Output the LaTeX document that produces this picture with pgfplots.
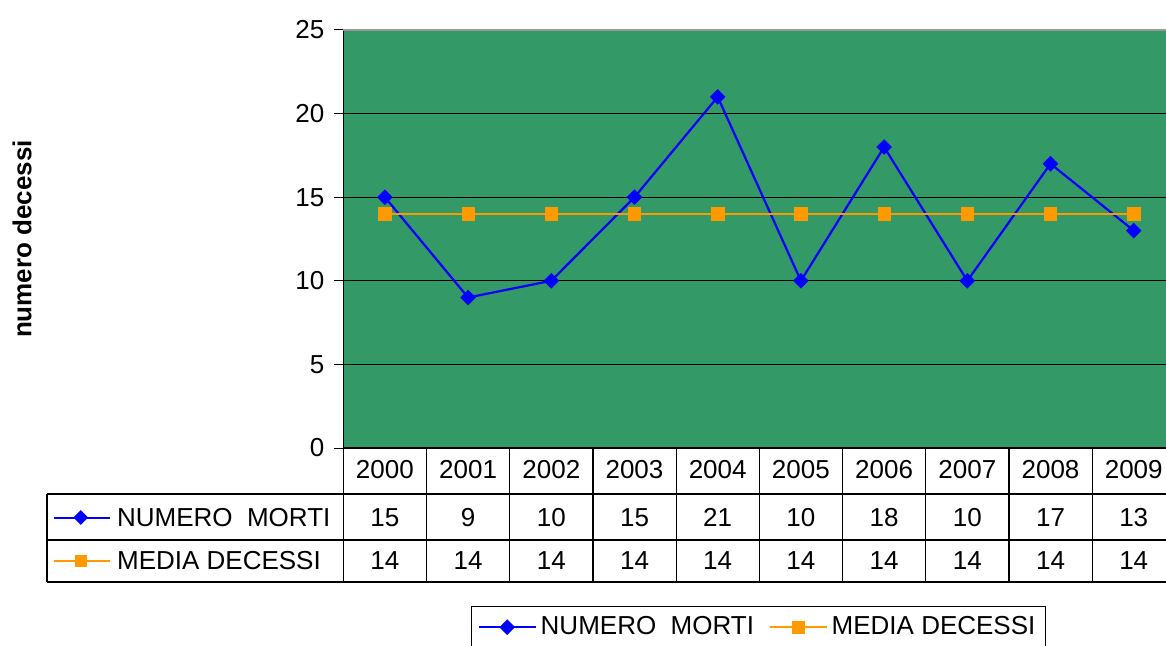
\documentclass[border=0pt]{standalone}
\usepackage{pgfplots}
\pgfplotsset{compat=1.18}
\usepackage{pgfplotstable}
\usepackage{fontspec}
\setmainfont{Liberation Sans}
\usetikzlibrary{shapes.geometric}
\definecolor{plotgreen}{RGB}{51,153,102}
\definecolor{morti}{RGB}{0,0,255}
\definecolor{media}{RGB}{255,153,0}
\pgfplotstableread{
idx year morti media
0 2000 15 14
1 2001 9 14
2 2002 10 14
3 2003 15 14
4 2004 21 14
5 2005 10 14
6 2006 18 14
7 2007 10 14
8 2008 17 14
9 2009 13 14
}\datatable
\begin{document}
\begin{tikzpicture}[font=\fontsize{13}{15.6}\selectfont]
\useasboundingbox (0,0) rectangle (583pt,-323pt);
\begin{axis}[
  at={(171.65pt,-224pt)}, anchor=south west,
  scale only axis, width=416pt, height=209pt,
  xmin=-0.5, xmax=9.5, ymin=0, ymax=25,
  xtick=\empty, ytick={0,5,...,25},
  axis lines*=left, axis line style={-, black, line width=0.6pt},
  tick align=outside, major tick length=4.5pt,
  ytick style={black, line width=0.5pt},
  ymajorgrids, grid style={black, line width=0.5pt},
  axis background/.style={fill=plotgreen},
  /pgf/number format/assume math mode=true,
  yticklabel style={xshift=-1.5pt},
  ylabel={\bfseries numero decessi},
  ylabel style={at={(axis description cs:-0.3862,0.5)}, anchor=center},
  clip=false,
  legend columns=2,
  legend cell align=left,
  legend style={at={(axis description cs:0.1535,-0.378)}, anchor=north west,
    draw=black, line width=0.6pt, inner xsep=3pt, inner ysep=3pt,
    /tikz/every even column/.append style={column sep=5.5pt}},
  legend image code/.code={\draw[mark repeat=2,mark phase=2] plot coordinates {(0cm,0cm)(0.5cm,0cm)(1cm,0cm)};},
]
\addplot[morti, line width=1.1pt, mark=square*, mark size=2.6pt,
  mark options={rotate=45, solid, fill=morti, draw=morti, line width=0.3pt}]
  table[x=idx, y=morti] {\datatable};
\addlegendentry{NUMERO\ \ MORTI}
\addplot[media, line width=0.9pt, mark=square*, mark size=3.1pt,
  mark options={solid, fill=media, draw=media, line width=0.3pt}]
  table[x=idx, y=media] {\datatable};
\addlegendentry{MEDIA DECESSI}
% data table text
\addplot[draw=none, mark=none, forget plot, nodes near coords, point meta=explicit symbolic,
  nodes near coords style={anchor=center, inner sep=0pt}]
  table[x=idx, y expr=-1.298, meta=year] {\datatable};
\addplot[draw=none, mark=none, forget plot, nodes near coords, point meta=explicit symbolic,
  nodes near coords style={anchor=center, inner sep=0pt}]
  table[x=idx, y expr=-4.157, meta=morti] {\datatable};
\addplot[draw=none, mark=none, forget plot, nodes near coords, point meta=explicit symbolic,
  nodes near coords style={anchor=center, inner sep=0pt}]
  table[x=idx, y expr=-6.758, meta=media] {\datatable};
\draw[gray!80, line width=1pt] (rel axis cs:0,1) -- (rel axis cs:1,1);
\end{axis}
\begin{scope}[x=0.5pt, y=-0.5pt]
  \draw[black, line width=0.6pt] (47,494) -- (1175,494);
  \draw[black, line width=0.6pt] (47,540) -- (1175,540);
  \draw[black, line width=0.6pt] (47,582) -- (1175,582);
  \draw[black, line width=0.6pt] (47,494) -- (47,582);
  \foreach \k in {0,...,10} {
    \draw[black, line width=0.6pt] ({343.3+83.2*\k},448) -- ({343.3+83.2*\k},582);
  }
  \draw[morti, line width=1pt] (54,517.5) -- (110,517.5);
  \node[diamond, fill=morti, inner sep=0pt, minimum size=7.5pt] at (80.7,517.5) {};
  \node[anchor=west, inner sep=0pt] at (116.7,517.5) {NUMERO\ \ MORTI};
  \draw[media, line width=0.8pt] (54,561) -- (110,561);
  \node[fill=media, inner sep=0pt, minimum size=6.2pt] at (80.7,561) {};
  \node[anchor=west, inner sep=0pt] at (116.7,561) {MEDIA DECESSI};
\end{scope}
\end{tikzpicture}
\end{document}
